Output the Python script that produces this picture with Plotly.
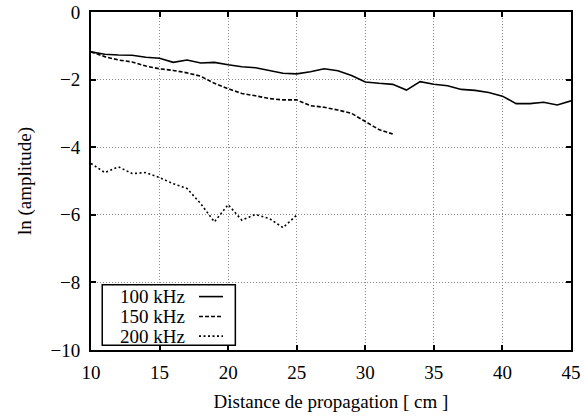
import plotly.graph_objects as go

x100 = list(range(10, 46))
y100 = [-1.18, -1.25, -1.27, -1.28, -1.34, -1.37, -1.49, -1.42, -1.51, -1.49,
        -1.56, -1.62, -1.65, -1.74, -1.81, -1.83, -1.77, -1.68, -1.74, -1.88,
        -2.07, -2.11, -2.14, -2.31, -2.06, -2.14, -2.18, -2.29, -2.32, -2.38,
        -2.49, -2.71, -2.71, -2.67, -2.75, -2.63]
x150 = list(range(10, 33))
y150 = [-1.18, -1.32, -1.42, -1.48, -1.60, -1.68, -1.73, -1.80, -1.90, -2.11,
        -2.27, -2.41, -2.48, -2.56, -2.60, -2.60, -2.77, -2.82, -2.90, -3.00,
        -3.24, -3.48, -3.61]
x200 = list(range(10, 26))
y200 = [-4.48, -4.75, -4.58, -4.78, -4.75, -4.90, -5.08, -5.22, -5.67, -6.21,
        -5.70, -6.16, -5.99, -6.11, -6.38, -6.01]
labels = ["100 kHz", "150 kHz", "200 kHz"]
dashes = ["solid", "4px,2px", "2px,2.5px"]

FONT = "Liberation Serif"
FS = 19

fig = go.Figure()
for xs, ys, lab, d in zip([x100, x150, x200], [y100, y150, y200], labels, dashes):
    fig.add_trace(go.Scatter(x=xs, y=ys, mode="lines", name=lab,
                             line=dict(color="black", width=1.6, dash=d),
                             showlegend=False))

axis_common = dict(showline=True, linecolor="black", linewidth=2, mirror="allticks",
                   ticks="inside", ticklen=5, tickcolor="black", tickwidth=1.5,
                   showgrid=True, gridcolor="#8a8a8a", gridwidth=1, griddash="1px,2px",
                   zeroline=False, automargin=False,
                   tickfont=dict(family=FONT, size=FS, color="black"))

fig.update_xaxes(range=[10, 45], dtick=5, tick0=10, ticklabelstandoff=4,
                 title=dict(text="Distance de propagation [ cm ]",
                            font=dict(family=FONT, size=FS, color="black"), standoff=13),
                 **axis_common)
fig.update_yaxes(range=[-10, 0], dtick=2, tick0=0, ticklabelstandoff=5,
                 title=dict(text="ln (amplitude)",
                            font=dict(family=FONT, size=FS, color="black"), standoff=14),
                 **axis_common)

# manual legend (text left, line sample right)
shapes = [dict(type="rect", xref="paper", yref="paper", x0=0.0234, x1=0.3007,
               y0=0.0139, y1=0.193, line=dict(color="black", width=1.5),
               fillcolor="white", layer="above")]
annotations = []
rows = [0.158, 0.099, 0.041]
for lab, d, ry in zip(labels, dashes, rows):
    annotations.append(dict(xref="paper", yref="paper", x=0.2, y=ry, text=lab,
                            showarrow=False, xanchor="right", yanchor="middle",
                            font=dict(family=FONT, size=FS, color="black")))
    shapes.append(dict(type="line", xref="paper", yref="paper", x0=0.225, x1=0.275,
                       y0=ry, y1=ry, line=dict(color="black", width=1.6, dash=d),
                       layer="above"))

fig.update_layout(width=584, height=417, margin=dict(l=91, r=13, t=12, b=67),
                  plot_bgcolor="white", paper_bgcolor="white",
                  shapes=shapes, annotations=annotations,
                  font=dict(family=FONT, color="black"))
fig.write_html("out.html", config={"displayModeBar": False},
               post_script="document.body.style.margin='0';")
